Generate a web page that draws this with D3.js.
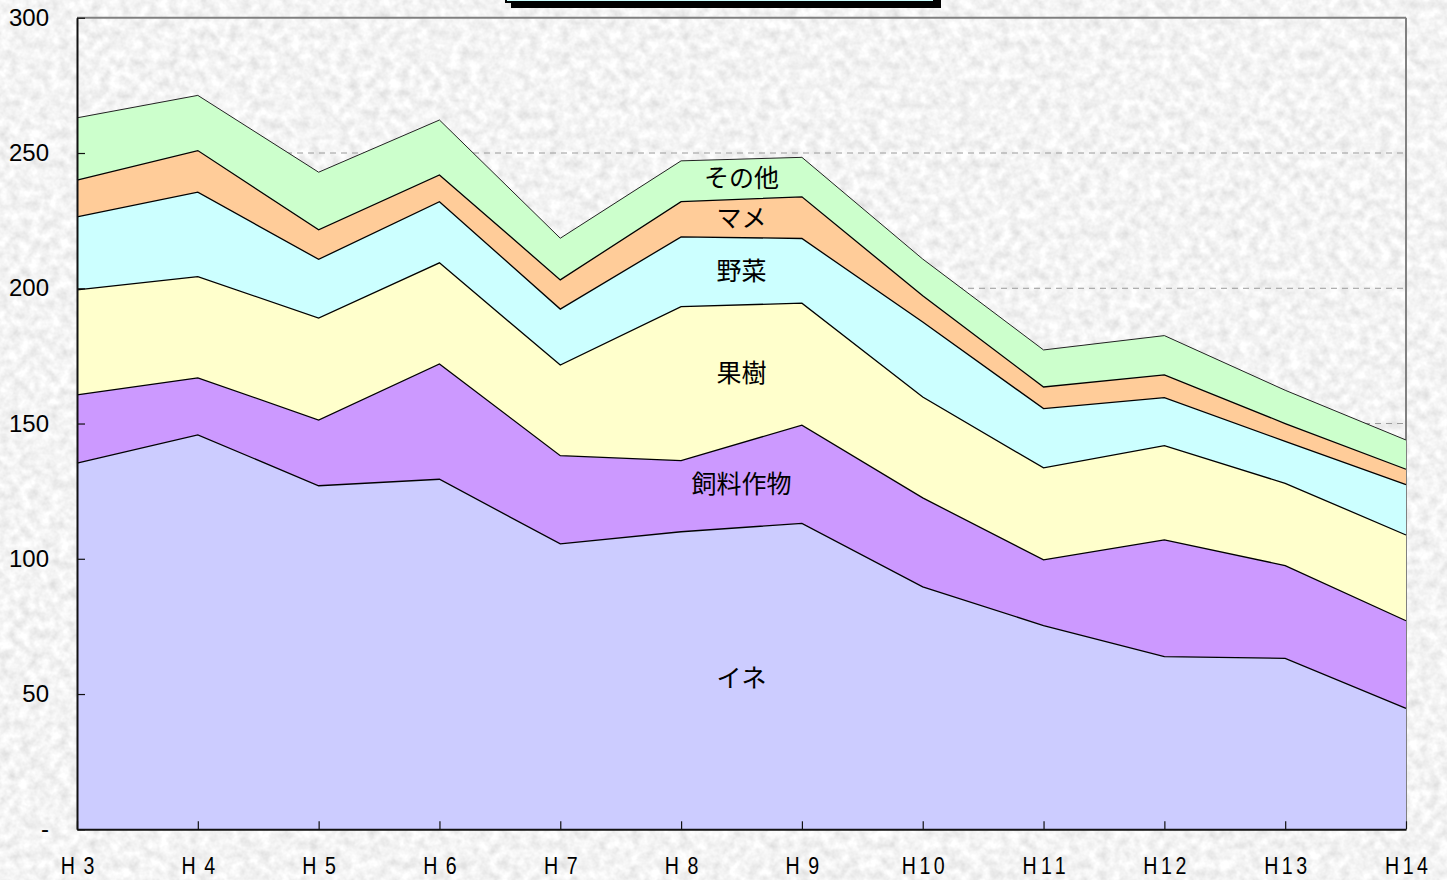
<!DOCTYPE html>
<html><head><meta charset="utf-8">
<script src="https://cdn.jsdelivr.net/npm/d3@7"></script>
<style>
html,body{margin:0;padding:0;background:#e6e6e6;overflow:hidden}
svg{display:block}
</style></head>
<body>
<svg id="chart" width="1447" height="880"></svg>
<script>
// ---- data ----
const years   = ["H3","H4","H5","H6","H7","H8","H9","H10","H11","H12","H13","H14"];
const xLabels = ["H 3","H 4","H 5","H 6","H 7","H 8","H 9","H10","H11","H12","H13","H14"];
const seriesNames = ["イネ","飼料作物","果樹","野菜","マメ","その他"];
const ine    = [135.4,145.8,127.0,129.4,105.5,110.0,113.1,89.6,75.3,63.8,63.2,44.7];
const shiryo = [25.2,21.1,24.3,42.6,32.6,26.3,36.3,32.9,24.3,43.2,34.3,32.4];
const kaju   = [38.8,37.4,37.7,37.4,33.5,56.9,45.1,37.3,34.0,34.8,30.4,31.7];
const yasai  = [27.0,31.2,21.7,22.6,20.7,25.8,23.9,27.7,21.9,17.8,15.5,18.6];
const mame   = [13.6,15.4,10.9,9.9,10.8,13.0,15.4,9.7,8.0,8.4,6.6,5.7];
const sonota = [23.0,20.4,21.3,20.3,15.4,15.1,14.6,13.6,13.7,14.5,12.3,10.8];
const yTicks = [0,50,100,150,200,250,300];
const gridValues = [50,100,150,200,250];
const colors = ["#ccccff","#cc99ff","#ffffcc","#ccffff","#ffcc99","#ccffcc"];

// ---- layout ----
const svg = d3.select("#chart");
const L = 77, R = 1406, T = 17.75, B = 829.3;

// textured background
const defs = svg.append("defs");
const f = defs.append("filter").attr("id","noise").attr("x",0).attr("y",0).attr("width","100%").attr("height","100%");
f.append("feTurbulence").attr("type","fractalNoise").attr("baseFrequency","0.1").attr("numOctaves",3).attr("seed",7);
f.append("feColorMatrix").attr("type","matrix")
 .attr("values","0.4 0 0 0 0.70  0.4 0 0 0 0.70  0.4 0 0 0 0.70  0 0 0 0 1");
svg.append("rect").attr("width",1447).attr("height",880).attr("filter","url(#noise)");

const x = d3.scalePoint().domain(years).range([L,R]);
const y = d3.scaleLinear().domain([0,300]).range([B,T]);

const table = years.map((yr,i)=>({year:yr,"イネ":ine[i],"飼料作物":shiryo[i],"果樹":kaju[i],"野菜":yasai[i],"マメ":mame[i],"その他":sonota[i]}));
const stacked = d3.stack().keys(seriesNames)(table);

// grid
svg.append("g").selectAll("line").data(gridValues).join("line")
  .attr("x1",L).attr("x2",R).attr("y1",d=>y(d)).attr("y2",d=>y(d))
  .attr("stroke","#9a9a9a").attr("stroke-width",1).attr("stroke-dasharray","6,5");

// frame (top & right)
svg.append("line").attr("x1",L).attr("x2",R).attr("y1",T).attr("y2",T).attr("stroke","#808080").attr("stroke-width",2);
svg.append("line").attr("x1",R).attr("x2",R).attr("y1",T).attr("y2",B).attr("stroke","#808080").attr("stroke-width",2);

// areas
const area = d3.area().x(d=>x(d.data.year)).y0(d=>y(d[0])).y1(d=>y(d[1]));
const topLine = d3.line().x(d=>x(d.data.year)).y(d=>y(d[1]));
svg.append("g").selectAll("path").data(stacked).join("path")
  .attr("d",area).attr("fill",(d,i)=>colors[i]);
svg.append("g").selectAll("path").data(stacked).join("path")
  .attr("d",topLine).attr("fill","none")
  .attr("stroke",(d,i)=>i===stacked.length-1?"#222":"#000")
  .attr("stroke-width",(d,i)=>i===stacked.length-1?1:1.3);

// axes
const yAxis = d3.axisLeft(y).tickValues(yTicks).tickSizeInner(-8).tickSizeOuter(0).tickPadding(28)
  .tickFormat(d=>d===0?"-":d);
const gy = svg.append("g").attr("transform",`translate(${L},0)`).call(yAxis);
gy.select(".domain").attr("stroke","#111").attr("stroke-width",2);
gy.selectAll(".tick line").attr("stroke","#111").attr("stroke-width",1.2);
gy.selectAll(".tick text").attr("font-family","'Liberation Sans',Arial,sans-serif").attr("font-size",24).attr("fill","#000");

const xAxis = d3.axisBottom(x).tickSizeInner(-8).tickSizeOuter(0).tickPadding(27)
  .tickFormat((d,i)=>xLabels[i]);
const gx = svg.append("g").attr("transform",`translate(0,${B})`).call(xAxis);
gx.select(".domain").attr("stroke","#111").attr("stroke-width",2);
gx.selectAll(".tick line").attr("stroke","#111").attr("stroke-width",1.2);
gx.selectAll(".tick text").attr("font-family","'Liberation Sans',Arial,sans-serif").attr("font-size",24.5).attr("fill","#000")
  .attr("transform","scale(0.8,1)")
  .attr("textLength",(d,i)=>xLabels[i].includes(" ")?42:53.8)
  .attr("lengthAdjust","spacing");

// series labels, placed mid-band between H8 and H9
const i8 = years.indexOf("H8"), i9 = years.indexOf("H9");
const lx = (x(years[i8])+x(years[i9]))/2;
svg.append("g").selectAll("text").data(stacked).join("text")
  .attr("x",lx)
  .attr("y",s=>{const lo=(y(s[i8][0])+y(s[i9][0]))/2, hi=(y(s[i8][1])+y(s[i9][1]))/2; return (lo+hi)/2;})
  .attr("dy","0.33em").attr("text-anchor","middle")
  .attr("font-family","'Noto Sans CJK JP','Noto Sans',sans-serif").attr("font-size",25).attr("fill","#000")
  .text(s=>s.key);

// cut-off title box at the top edge
svg.append("rect").attr("x",511).attr("y",-30).attr("width",430).attr("height",38).attr("fill","#000");
svg.append("rect").attr("x",506).attr("y",-30).attr("width",428).attr("height",32).attr("fill","#ccffff").attr("stroke","#000").attr("stroke-width",2);
</script>
</body></html>
